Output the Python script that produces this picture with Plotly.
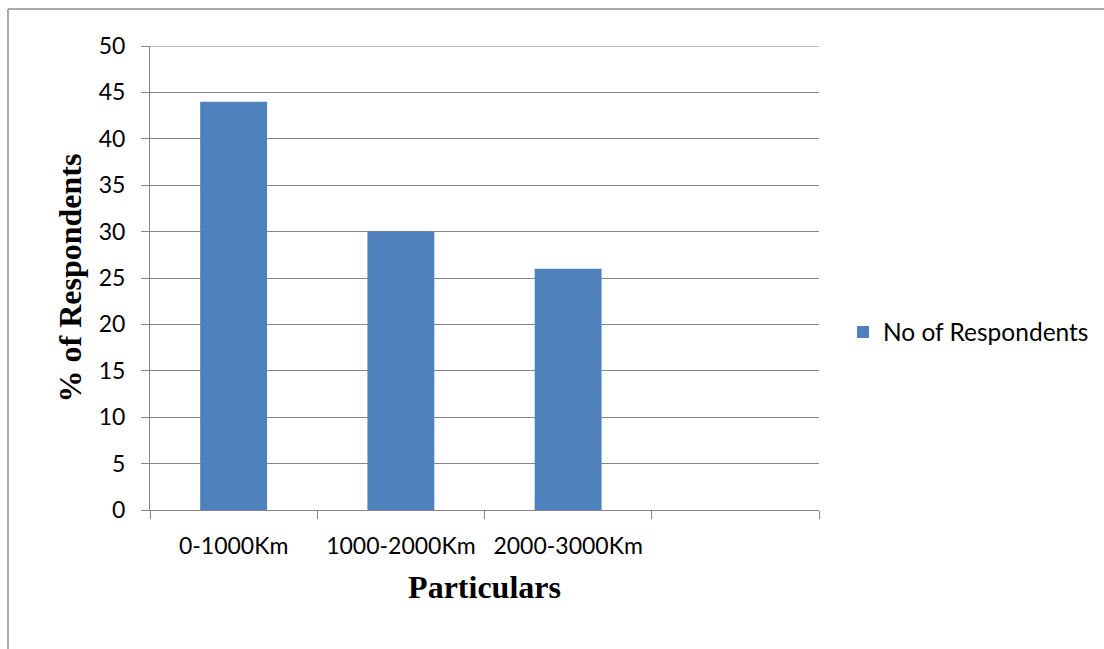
import plotly.graph_objects as go

# Distance bands and share of respondents in each
categories = ["0-1000Km", "1000-2000Km", "2000-3000Km"]
respondents = [44, 30, 26]
series_name = "No of Respondents"
n_slots = 4  # the axis leaves one empty slot after the last band

y_ticks = list(range(0, 55, 5))
y_max = 50

W, H = 1104, 649
ML, MR, MT, MB = 150, 285, 46, 139
plot_w = W - ML - MR
plot_h = H - MT - MB

BAR = "#4F81BD"
GRID = "#868686"
TICK_FONT = dict(family="Lato", size=23, color="#000000")
LEGEND_FONT = dict(family="Lato", size=24.5, color="#000000")
TITLE_FONT = dict(family="Liberation Serif", size=32, color="#000000")

positions = list(range(len(categories)))

fig = go.Figure()
fig.add_trace(go.Bar(
    x=positions,
    y=respondents,
    name=series_name,
    marker=dict(color=BAR, line=dict(width=0)),
    width=0.4,
    showlegend=True,
))

fig.update_xaxes(
    range=[-0.5, n_slots - 0.5],
    tickmode="array",
    tickvals=positions,
    ticktext=categories,
    ticks="",
    tickfont=TICK_FONT,
    ticklabelstandoff=15,
    showgrid=False,
    showline=True,
    linecolor=GRID,
    linewidth=1,
    zeroline=False,
    minor=dict(
        tickmode="array",
        tickvals=[i - 0.5 for i in range(n_slots + 1)],
        ticks="outside",
        ticklen=8,
        tickcolor=GRID,
        tickwidth=1,
        showgrid=False,
    ),
    title=dict(text="<b>Particulars</b>", font=TITLE_FONT, standoff=18),
    fixedrange=True,
)

fig.update_yaxes(
    range=[0, y_max],
    tickmode="array",
    tickvals=y_ticks,
    ticks="outside",
    ticklen=8,
    tickcolor=GRID,
    tickwidth=1,
    tickfont=TICK_FONT,
    ticklabelstandoff=11,
    showgrid=True,
    gridcolor=GRID,
    gridwidth=1,
    showline=True,
    linecolor=GRID,
    linewidth=1,
    zeroline=False,
    title=dict(text="<b>% of Respondents</b>", font=TITLE_FONT, standoff=7),
    fixedrange=True,
)

# Top gridline sits on the edge of the plotting area
fig.add_shape(type="line", xref="paper", yref="y",
              x0=0, x1=1, y0=y_max, y1=y_max,
              line=dict(color=GRID, width=1))

# Outer chart frame: left and top edges visible
fx = (8 - ML) / plot_w
fy_top = (H - MB - 9) / plot_h
fy_bot = -(MB + 5) / plot_h
fx_right = (W + 5 - ML) / plot_w
frame = dict(color="#8C8C8C", width=1.5)
fig.add_shape(type="line", xref="paper", yref="paper",
              x0=fx, y0=fy_bot, x1=fx, y1=fy_top, line=frame)
fig.add_shape(type="line", xref="paper", yref="paper",
              x0=fx, y0=fy_top, x1=fx_right, y1=fy_top, line=frame)

fig.update_layout(
    width=W,
    height=H,
    margin=dict(l=ML, r=MR, t=MT, b=MB, autoexpand=False),
    paper_bgcolor="#FFFFFF",
    plot_bgcolor="#FFFFFF",
    legend=dict(
        x=(843 - ML) / plot_w,
        xanchor="left",
        y=(H - MB - 332) / plot_h,
        yanchor="middle",
        font=LEGEND_FONT,
        bgcolor="rgba(0,0,0,0)",
    ),
)

fig.write_html("out.html")
